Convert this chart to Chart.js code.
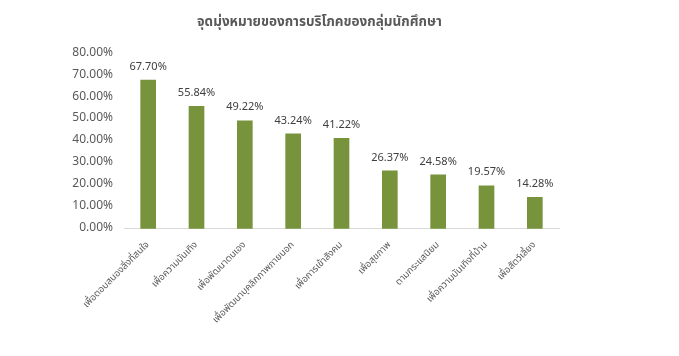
<!DOCTYPE html>
<html><head><meta charset="utf-8">
<script src="https://cdn.jsdelivr.net/npm/chart.js@4/dist/chart.umd.min.js"></script>
<style>html,body{margin:0;padding:0;background:#fff;}#wrap{width:679px;height:356px;}</style>
</head><body><div id="wrap"><canvas id="c" width="679" height="356"></canvas></div>
<script>
const categories = ["เพื่อตอบสนองสิ่งที่สนใจ","เพื่อความบันเทิง","เพื่อพัฒนาตนเอง","เพื่อพัฒนาบุคลิกภาพภายนอก","เพื่อการเข้าสังคม","เพื่อสุขภาพ","ตามกระแสนิยม","เพื่อความบันเทิงที่บ้าน","เพื่อสัตว์เลี้ยง"];
const values = [67.70,55.84,49.22,43.24,41.22,26.37,24.58,19.57,14.28];
const titleText = "จุดมุ่งหมายของการบริโภคของกลุ่มนักศึกษา";
const yTicks = [0,10,20,30,40,50,60,70,80];

const FONT = "'Noto Sans Thai','Noto Sans','DejaVu Sans',sans-serif";
const labelPlugin = {
  id:'vals',
  afterLayout(chart){
    if (chart.titleBlock){ chart.titleBlock.left += 13; chart.titleBlock.right += 13; }
  },
  afterDatasetsDraw(chart){
    const ctx = chart.ctx;
    const meta = chart.getDatasetMeta(0);
    ctx.save();
    ctx.font = "11px " + FONT;
    ctx.fillStyle = "#404040";
    ctx.textAlign = "center";
    ctx.textBaseline = "bottom";
    meta.data.forEach((bar,i)=>{
      ctx.fillText(values[i].toFixed(2)+"%", bar.x, bar.y-7);
    });
    ctx.restore();
  }
};
new Chart(document.getElementById('c'),{
  type:'bar',
  data:{labels:categories,datasets:[{data:values,backgroundColor:'#77933C',barThickness:15}]},
  options:{
    responsive:false,animation:false,
    layout:{padding:{left:54,right:120,top:15,bottom:27}},
    plugins:{legend:{display:false},tooltip:{enabled:false},
      title:{display:true,text:titleText,color:'#595959',font:{family:FONT,size:13.5,weight:'bold'},padding:{top:0,bottom:22}}},
    scales:{
      x:{grid:{display:false},border:{color:'#d9d9d9'},
        afterFit(s){s.paddingLeft=0;s.paddingRight=0;},
        ticks:{color:'#595959',font:{family:FONT,size:9.5},maxRotation:45,minRotation:45,autoSkip:false}},
      y:{min:0,max:80,grid:{display:false},border:{display:false},
        afterFit(s){s.width=70;},
        afterBuildTicks(s){s.ticks=yTicks.map(v=>({value:v}));},
        ticks:{color:'#595959',padding:3,font:{family:FONT,size:12},callback:v=>v.toFixed(2)+'%'}}
    }
  },
  plugins:[labelPlugin]
});
</script></body></html>
